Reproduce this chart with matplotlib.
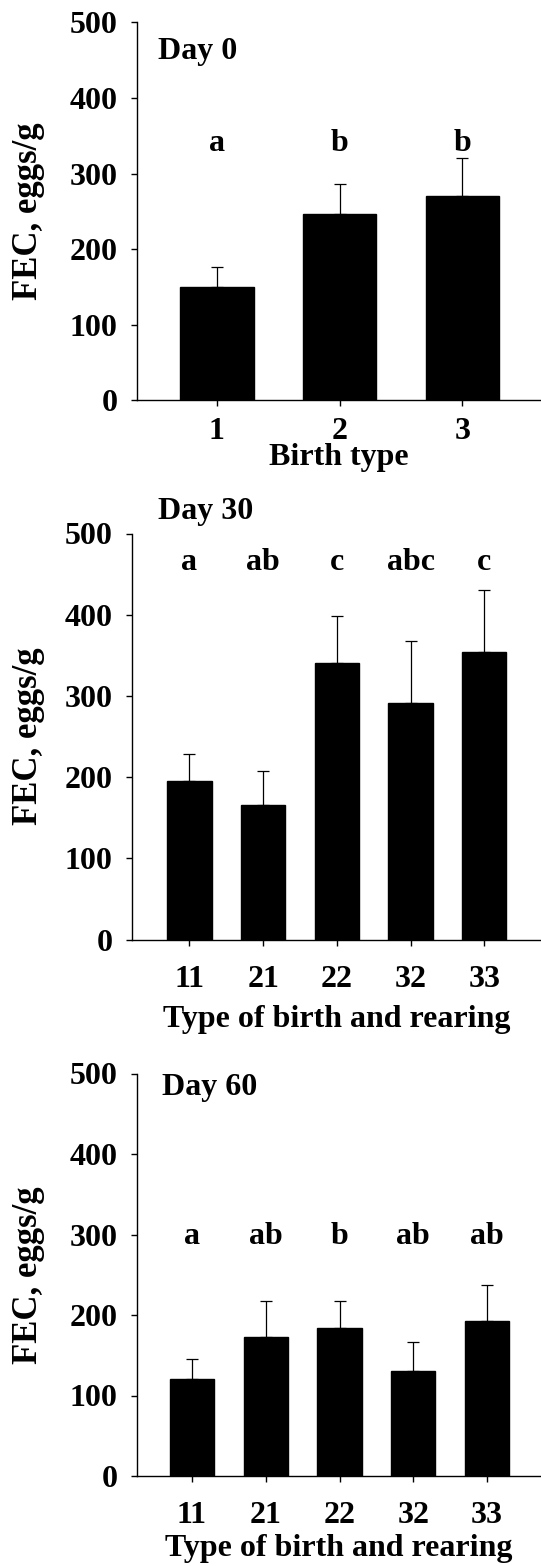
import matplotlib
matplotlib.use("Agg")
import matplotlib.pyplot as plt
import numpy as np

plt.rcParams['font.family'] = ['Liberation Serif', 'DejaVu Serif']
plt.rcParams['font.weight'] = 'bold'

# Day 0
cat_day0 = ['1', '2', '3']
mean_day0 = [150, 247, 270]
upper_day0 = [176, 286, 320]
letters_day0 = ['a', 'b', 'b']

# Day 30
cat_day30 = ['11', '21', '22', '32', '33']
mean_day30 = [195, 166, 341, 291, 354]
upper_day30 = [229, 208, 399, 368, 430]
letters_day30 = ['a', 'ab', 'c', 'abc', 'c']

# Day 60
cat_day60 = ['11', '21', '22', '32', '33']
mean_day60 = [120, 173, 184, 131, 192]
upper_day60 = [145, 217, 218, 166, 237]
letters_day60 = ['a', 'ab', 'b', 'ab', 'ab']

W, H = 541, 1566
fig = plt.figure(figsize=(W / 100, H / 100), dpi=100)


def panel(box, cats, mean, upper, letters, letter_y, title, title_pos,
          xlabel, xlim, xpad, xlabelpad):
    left, top, right, bottom = box
    ax = fig.add_axes([left / W, 1 - bottom / H, (right - left) / W, (bottom - top) / H])
    x = np.arange(len(cats))
    mean = np.array(mean)
    err = np.array(upper) - mean
    ax.bar(x, mean, width=0.6, color='black', edgecolor='black', zorder=2)
    ax.errorbar(x, mean, yerr=[np.zeros_like(err), err], fmt='none',
                ecolor='black', elinewidth=0.9, capsize=4, capthick=0.9, zorder=1)
    for xi, lab in zip(x, letters):
        ax.text(xi, letter_y, lab, ha='center', va='center', fontsize=23,
                fontweight='bold')
    ax.text(title_pos[0], title_pos[1], title, transform=ax.transAxes,
            ha='left', va='center', fontsize=23, fontweight='bold')
    ax.set_xlim(*xlim)
    ax.set_ylim(0, 500)
    ax.set_yticks([0, 100, 200, 300, 400, 500])
    ax.set_xticks(x)
    ax.set_xticklabels(cats)
    ax.tick_params(axis='both', direction='out', length=4, width=1,
                   labelsize=23)
    ax.tick_params(axis='y', pad=10)
    ax.tick_params(axis='x', pad=xpad)
    for lbl in ax.get_xticklabels() + ax.get_yticklabels():
        lbl.set_fontweight('bold')
    ax.spines['top'].set_visible(False)
    ax.spines['right'].set_visible(False)
    ax.spines['left'].set_linewidth(1)
    ax.spines['bottom'].set_linewidth(1)
    ax.set_ylabel('FEC, eggs/g', fontsize=25, fontweight='bold')
    ax.yaxis.set_label_coords((45 - left) / (right - left), 0.5)
    ax.set_xlabel(xlabel, fontsize=23, fontweight='bold', labelpad=xlabelpad)
    return ax


panel((137, 22.4, 541, 400.3), cat_day0, mean_day0, upper_day0, letters_day0,
      340, 'Day 0', (0.052, 0.922), 'Birth type', (-0.65, 2.64), 8, -2)
panel((132, 533.5, 541, 939.6), cat_day30, mean_day30, upper_day30, letters_day30,
      464, 'Day 30', (0.064, 1.055), 'Type of birth and rearing', (-0.78, 4.77), 14, 8)
panel((137, 1073.5, 541, 1476), cat_day60, mean_day60, upper_day60, letters_day60,
      297, 'Day 60', (0.062, 0.964), 'Type of birth and rearing', (-0.744, 4.73), 14, 3)

fig.savefig('out.png', dpi=100)
